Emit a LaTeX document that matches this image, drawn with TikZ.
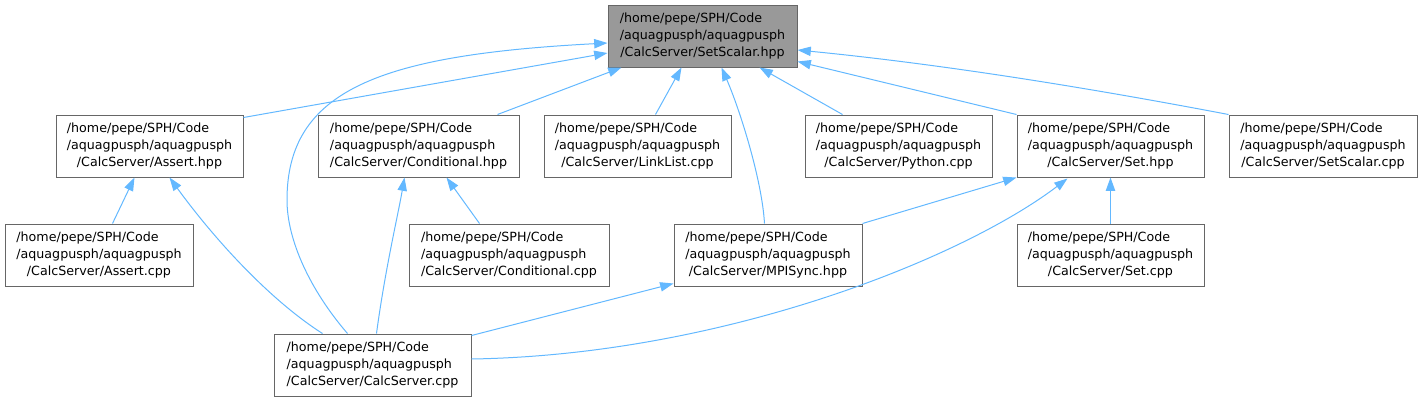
\documentclass[tikz,border=0pt]{standalone}
\usepackage{fontspec}
\setmainfont{DejaVu Sans}
\usetikzlibrary{arrows.meta,calc}
\definecolor{edgeblue}{HTML}{63B8FF}
\definecolor{boxborder}{HTML}{666666}
\definecolor{topfill}{HTML}{999999}
\newcommand\doxlbl[3]{\begin{tabular}{@{}l@{}}#1\\#2\\\multicolumn{1}{@{}c@{}}{#3}\end{tabular}}
\begin{document}
\begin{tikzpicture}[x=0.75pt,y=-0.75pt,
  box/.style={draw=boxborder, line width=0.75pt, fill=white, minimum height=46.5pt, inner sep=0pt, font=\fontsize{9.5pt}{12.75pt}\selectfont},
  edge/.style={draw=edgeblue, line width=0.75pt, -{Triangle[length=10pt,width=7pt]}}]
\useasboundingbox (0,0) rectangle (1422,401);
% nodes
\node[box, fill=topfill, minimum width=141.75pt] (top) at (702.5,36) {\doxlbl{/home/pepe/SPH/Code}{/aquagpusph/aquagpusph}{/CalcServer/SetScalar.hpp}};
\node[box, minimum width=140.25pt] (assh) at (149.5,146) {\doxlbl{/home/pepe/SPH/Code}{/aquagpusph/aquagpusph}{/CalcServer/Assert.hpp}};
\node[box, minimum width=150.75pt] (condh) at (418.5,146) {\doxlbl{/home/pepe/SPH/Code}{/aquagpusph/aquagpusph}{/CalcServer/Conditional.hpp}};
\node[box, minimum width=140.25pt] (link) at (637.5,146) {\doxlbl{/home/pepe/SPH/Code}{/aquagpusph/aquagpusph}{/CalcServer/LinkList.cpp}};
\node[box, minimum width=140.25pt] (py) at (898.5,146) {\doxlbl{/home/pepe/SPH/Code}{/aquagpusph/aquagpusph}{/CalcServer/Python.cpp}};
\node[box, minimum width=140.25pt] (seth) at (1110.5,146) {\doxlbl{/home/pepe/SPH/Code}{/aquagpusph/aquagpusph}{/CalcServer/Set.hpp}};
\node[box, minimum width=141pt] (ssc) at (1323,146) {\doxlbl{/home/pepe/SPH/Code}{/aquagpusph/aquagpusph}{/CalcServer/SetScalar.cpp}};
\node[box, minimum width=141pt] (assc) at (99,255) {\doxlbl{/home/pepe/SPH/Code}{/aquagpusph/aquagpusph}{/CalcServer/Assert.cpp}};
\node[box, minimum width=150pt] (condc) at (509,255) {\doxlbl{/home/pepe/SPH/Code}{/aquagpusph/aquagpusph}{/CalcServer/Conditional.cpp}};
\node[box, minimum width=141pt] (mpi) at (768,255) {\doxlbl{/home/pepe/SPH/Code}{/aquagpusph/aquagpusph}{/CalcServer/MPISync.hpp}};
\node[box, minimum width=140.25pt] (setc) at (1110.5,255) {\doxlbl{/home/pepe/SPH/Code}{/aquagpusph/aquagpusph}{/CalcServer/Set.cpp}};
\node[box, minimum width=147.75pt] (calc) at (372.5,365) {\doxlbl{/home/pepe/SPH/Code}{/aquagpusph/aquagpusph}{/CalcServer/CalcServer.cpp}};
% edges
\draw[edge] ($(assh.north east)+(0,3)$) -- ($(top.west)+(0,17)$);
\draw[edge] ($(calc.north west)+(74,0)$) .. controls (310,290) and (287,240) .. (287,200) .. controls (287,90) and (380,55) .. ($(top.west)+(0,7)$);
\draw[edge] ($(condh.north west)+(180,0)$) -- ($(top.south west)+(14,0)$);
\draw[edge] ($(link.north west)+(112,0)$) -- ($(top.south west)+(74,0)$);
\draw[edge] ($(mpi.north west)+(91,0)$) .. controls (762,180) and (740,110) .. ($(top.south west)+(114,0)$);
\draw[edge] ($(py.north west)+(38,0)$) -- ($(top.south west)+(152,0)$);
\draw[edge] (seth.north west) -- ($(top.south east)+(0,-6)$);
\draw[edge] (ssc.north west) .. controls (1100,90) and (950,65) .. ($(top.east)+(0,14)$);
\draw[edge] ($(assc.north west)+(108,0)$) -- ($(assh.south west)+(79,0)$);
\draw[edge] ($(calc.north west)+(49,0)$) .. controls (270,300) and (215,240) .. ($(assh.south west)+(114,0)$);
\draw[edge] ($(calc.north west)+(103,0)$) .. controls (385,270) and (398,215) .. ($(condh.south west)+(87,0)$);
\draw[edge] ($(condc.north west)+(71,0)$) -- ($(condh.south west)+(129,0)$);
\draw[edge] ($(calc.north east)+(0,2)$) -- ($(mpi.south west)+(0,-3)$);
\draw[edge] ($(calc.east)+(0,-6)$) .. controls (720,355) and (960,260) .. ($(seth.south west)+(51,1)$);
\draw[edge] (mpi.north east) -- (seth.south west);
\draw[edge] (setc.north) -- (seth.south);
\end{tikzpicture}
\end{document}
